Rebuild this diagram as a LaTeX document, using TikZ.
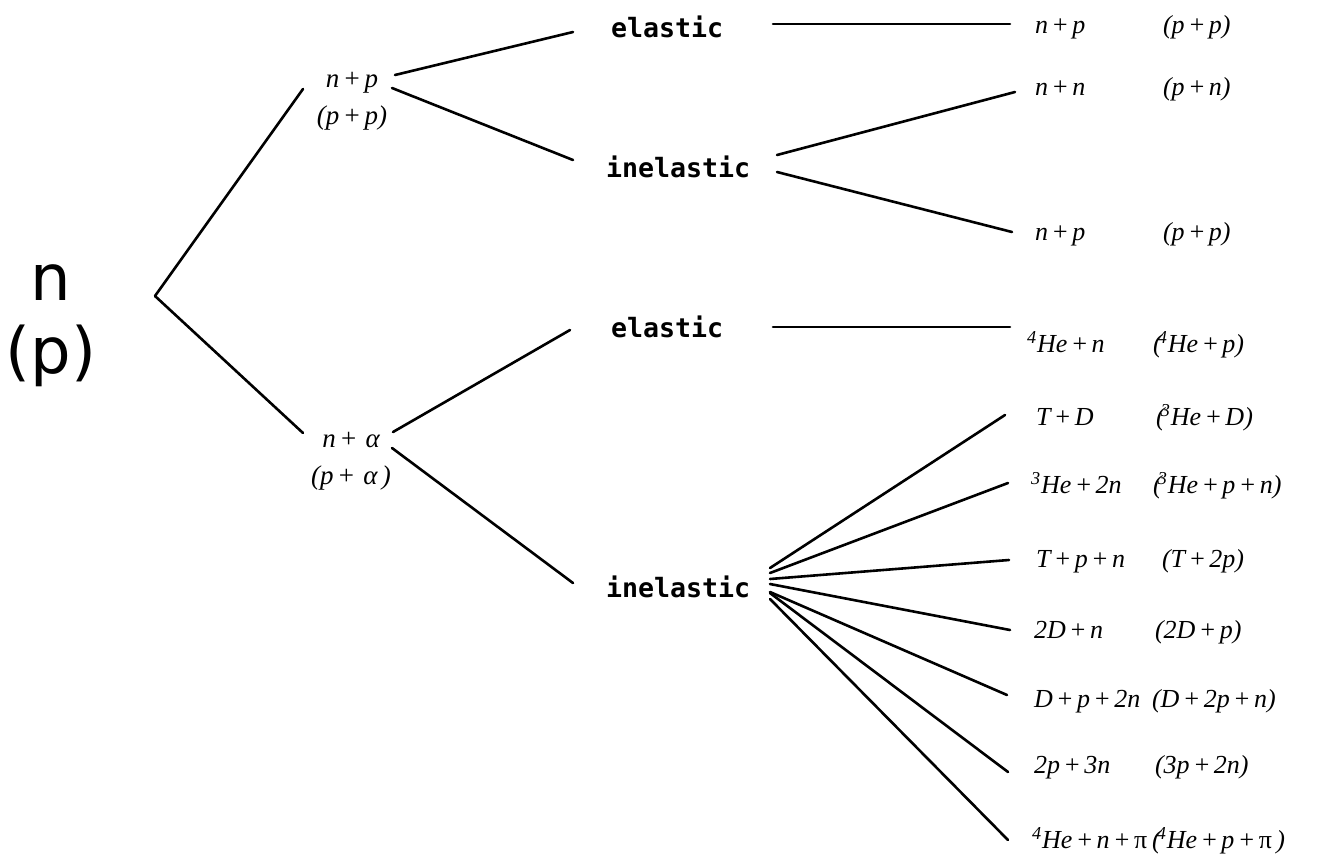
\documentclass[tikz,border=0pt]{standalone}
\usepackage{fontspec}
\setmainfont{Liberation Serif}
\newfontfamily\monofam{DejaVu Sans Mono}
\newfontfamily\rootfam{DejaVu Sans}
\newcommand\pl{\hspace{0.13em}+\hspace{0.13em}}
\newcommand\supn[1]{\textsuperscript{#1}}
\newcommand\twol[2]{\begin{tabular}[t]{@{}c@{}}#1\\#2\end{tabular}}
\begin{document}
\begin{tikzpicture}[x=0.5pt,y=-0.5pt,
  every node/.style={inner sep=0pt,outer sep=0pt},
  rootlabel/.style={font=\rootfam\fontsize{32}{36.5}\selectfont,anchor=base},
  mid/.style={font=\itshape\fontsize{13.5}{18.5}\selectfont,anchor=base},
  kind/.style={font=\monofam\bfseries\fontsize{13.3}{16}\selectfont,anchor=base west},
  prod/.style={font=\itshape\fontsize{13}{15}\selectfont,anchor=base west},
  link/.style={line width=1.3pt,line cap=round}]
\fill[white] (0,0) rectangle (1317,862);
\useasboundingbox (0,0) rectangle (1317,862);

% source
\node[rootlabel] (src) at (51,300) {\twol{n}{(p)}};
\coordinate (fork) at (155,296);

% intermediate channels
\node[mid] (np) at (352,87) {\twol{n\pl p}{(p\pl p)}};
\node[mid] (na) at (351,447) {\twol{n\pl\,α}{(p\pl\,α\,)}};

% process kinds
\node[kind] (el1) at (611,37) {elastic};
\node[kind] (in1) at (606,177) {inelastic};
\node[kind] (el2) at (611,337) {elastic};
\node[kind] (in2) at (606,597) {inelastic};

% products
\node[prod] (r1) at (1035,33) {n\pl p};
\node[prod] (r1b) at (1163,33) {(p\pl p)};
\node[prod] (r2) at (1035,95) {n\pl n};
\node[prod] (r2b) at (1163,95) {(p\pl n)};
\node[prod] (r3) at (1035,240) {n\pl p};
\node[prod] (r3b) at (1163,240) {(p\pl p)};
\node[prod] (r4) at (1027,352) {\supn{4}He\pl n};
\node[prod] (r4b) at (1153,352) {(\kern-0.15em\supn{4}He\pl p)};
\node[prod] (r5) at (1036,425) {T\pl D};
\node[prod] (r5b) at (1156,425) {(\kern-0.15em\supn{3}He\pl D)};
\node[prod] (r6) at (1031,493) {\supn{3}He\pl 2n};
\node[prod] (r6b) at (1153,493) {(\kern-0.15em\supn{3}He\pl p\pl n)};
\node[prod] (r7) at (1036,567) {T\pl p\pl n};
\node[prod] (r7b) at (1162,567) {(T\pl 2p)};
\node[prod] (r8) at (1034,638) {2D\pl n};
\node[prod] (r8b) at (1155,638) {(2D\pl p)};
\node[prod] (r9) at (1034,707) {D\pl p\pl 2n};
\node[prod] (r9b) at (1152,707) {(D\pl 2p\pl n)};
\node[prod] (r10) at (1034,773) {2p\pl 3n};
\node[prod] (r10b) at (1155,773) {(3p\pl 2n)};
\node[prod] (r11) at (1032,848) {\supn{4}He\pl n\pl{\upshape π}};
\node[prod] (r11b) at (1152,848) {(\kern-0.15em\supn{4}He\pl p\pl{\upshape π}\,)};

% connectors
\draw[link] (fork) -- ([shift={(-49,2)}]np.base);
\draw[link] (fork) -- ([shift={(-48,-14)}]na.base);

\draw[link] ([shift={(43,-12)}]np.base) -- ([shift={(-38,-5)}]el1.base west);
\draw[link] ([shift={(40,1)}]np.base) -- ([shift={(-33,-17)}]in1.base west);
\draw[link] ([shift={(162,-13)}]el1.base west) -- ([shift={(-25,-9)}]r1.base west);
\draw[link] ([shift={(171,-22)}]in1.base west) -- ([shift={(-20,-3)}]r2.base west);
\draw[link] ([shift={(171,-5)}]in1.base west) -- ([shift={(-23,-8)}]r3.base west);

\draw[link] ([shift={(42,-15)}]na.base) -- ([shift={(-41,-7)}]el2.base west);
\draw[link] ([shift={(41,1)}]na.base) -- ([shift={(-33,-14)}]in2.base west);
\draw[link] ([shift={(162,-10)}]el2.base west) -- ([shift={(-17,-25)}]r4.base west);

\draw[link] ([shift={(164,-29)}]in2.base west) -- ([shift={(-31,-10)}]r5.base west);
\draw[link] ([shift={(164,-24)}]in2.base west) -- ([shift={(-23,-10)}]r6.base west);
\draw[link] ([shift={(164,-18)}]in2.base west) -- ([shift={(-27,-7)}]r7.base west);
\draw[link] ([shift={(164,-13)}]in2.base west) -- ([shift={(-24,-8)}]r8.base west);
\draw[link] ([shift={(164,-5)}]in2.base west) -- ([shift={(-27,-12)}]r9.base west);
\draw[link] ([shift={(164,-4)}]in2.base west) -- ([shift={(-26,-1)}]r10.base west);
\draw[link] ([shift={(164,2)}]in2.base west) -- ([shift={(-24,-8)}]r11.base west);
\end{tikzpicture}
\end{document}
